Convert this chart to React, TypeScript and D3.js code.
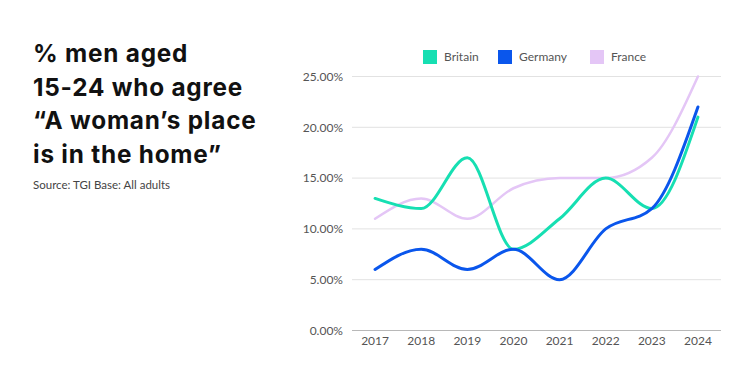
import React from "react";
import * as d3 from "d3";

const years = ["2017", "2018", "2019", "2020", "2021", "2022", "2023", "2024"];
const britain = [13, 12, 17, 8, 11, 15, 12, 21];
const germany = [6, 8, 6, 8, 5, 10, 12, 22];
const france = [11, 13, 11, 14, 15, 15, 17, 25];
const yTicks = [0, 5, 10, 15, 20, 25];
const seriesNames = ["Britain", "Germany", "France"];
const seriesColors = ["#16dfb2", "#0a56ec", "#e4c6f6"];
const titleLines = ["% men aged", "15-24 who agree", "\u201CA woman\u2019s place", "is in the home\u201D"];
const sourceText = "Source: TGI Base: All adults";

export default function App() {
  const W = 753, H = 376;
  const x = d3.scalePoint<string>().domain(years).range([352, 721]).padding(0.5);
  const y = d3.scaleLinear().domain([0, 25]).range([330.5, 76.5]);
  const line = d3
    .line<number>()
    .x((_, i) => x(years[i]) as number)
    .y((d) => y(d))
    .curve(d3.curveMonotoneX);
  const data = [britain, germany, france];
  const font = "Lato, 'Open Sans', sans-serif";
  const titleFont = "Inter, 'Open Sans', sans-serif";
  const legendX = [423, 498, 590];
  return (
    <svg width={W} height={H} style={{ position: "absolute", left: 0, top: 0, background: "#fff" }}>
      <rect width={W} height={H} fill="#fff" />
      {titleLines.map((t, i) => (
        <text key={i} x={33} y={62 + i * 33.7} fontFamily={titleFont} fontWeight={700} fontSize={24.3} letterSpacing={0.8} fill="#111">
          {t}
        </text>
      ))}
      <text x={33} y={188.5} fontFamily={font} fontSize={11.5} fill="#444">
        {sourceText}
      </text>
      {yTicks.map((t) => (
        <g key={t}>
          <line x1={352} x2={721} y1={y(t)} y2={y(t)} stroke={t === 0 ? "#b8b8b8" : "#e2e2e2"} strokeWidth={1} />
          <text x={343} y={y(t)} dy="0.35em" textAnchor="end" fontFamily={font} fontSize={12} fill="#555">
            {t.toFixed(2) + "%"}
          </text>
        </g>
      ))}
      {years.map((yr) => (
        <text key={yr} x={x(yr)} y={345} textAnchor="middle" fontFamily={font} fontSize={12} fill="#555">
          {yr}
        </text>
      ))}
      {[2, 0, 1].map((k) => (
        <path key={k} d={line(data[k]) || ""} fill="none" stroke={seriesColors[k]} strokeWidth={k === 2 ? 2.5 : 3} strokeLinecap="round" />
      ))}
      {seriesNames.map((n, i) => (
        <g key={n}>
          <rect x={legendX[i]} y={50} width={14} height={14} fill={seriesColors[i]} />
          <text x={legendX[i] + 21} y={57} dy="0.35em" fontFamily={font} fontSize={12} fill="#555">
            {n}
          </text>
        </g>
      ))}
    </svg>
  );
}
